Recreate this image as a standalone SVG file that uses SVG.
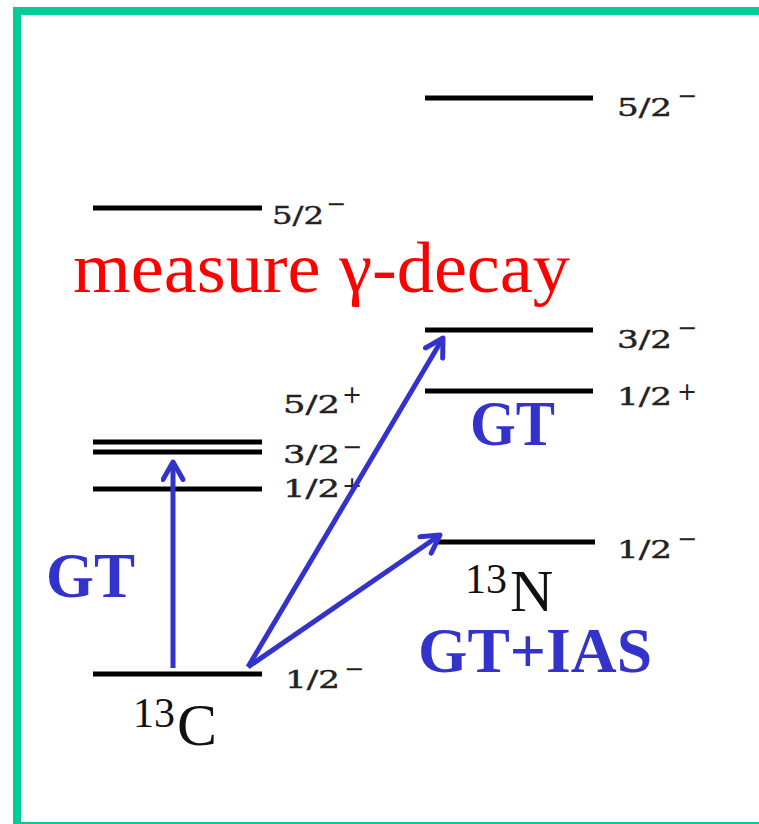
<svg xmlns="http://www.w3.org/2000/svg" width="759" height="824" viewBox="0 0 759 824">
<style>
.lvl{stroke:#000;stroke-width:5;fill:none}
.lab{font-family:"DejaVu Serif","Liberation Serif",serif;font-size:24px;fill:#222;stroke:#222;stroke-width:0.4}
.sig{font-family:"DejaVu Sans","Liberation Sans",sans-serif;font-size:24px;fill:#222}
.nuc{font-family:"Liberation Serif",serif;fill:#111}
.gt{font-family:"Liberation Serif",serif;font-weight:bold;font-size:63px;fill:#3333CC}
.arr{stroke:#3333CC;stroke-width:5;fill:none;marker-end:url(#ah)}
</style>
<defs>
<marker id="ah" viewBox="0 0 10 10" refX="8" refY="5" markerWidth="5" markerHeight="5" orient="auto" markerUnits="strokeWidth">
<path d="M1,1 L8,5 L1,9" fill="none" stroke="#3333CC" stroke-width="2" stroke-linecap="round" stroke-linejoin="round"/>
</marker>
</defs>
<rect x="0" y="0" width="759" height="824" fill="#fff"/>
<rect x="17" y="11" width="800" height="815" fill="none" stroke="#00CC99" stroke-width="8"/>

<g id="c13">
<line class="lvl" x1="93" y1="208" x2="262" y2="208"/>
<line class="lvl" x1="93" y1="442" x2="262" y2="442"/>
<line class="lvl" x1="93" y1="452" x2="262" y2="452"/>
<line class="lvl" x1="93" y1="489" x2="262" y2="489"/>
<line class="lvl" x1="93" y1="674" x2="262" y2="674"/>
<text class="nuc" x="133" y="727" font-size="42">13</text>
<text class="nuc" x="177" y="745" font-size="60">C</text>
</g>
<g id="c13-labels">
<text class="lab" x="272" y="224" textLength="52" lengthAdjust="spacingAndGlyphs">5/2</text><text class="sig" x="326" y="212">−</text>
<text class="lab" x="283" y="413" textLength="57" lengthAdjust="spacingAndGlyphs">5/2</text><text class="sig" x="342" y="403">+</text>
<text class="lab" x="283" y="463" textLength="57" lengthAdjust="spacingAndGlyphs">3/2</text><text class="sig" x="342" y="455">−</text>
<text class="lab" x="283" y="497" textLength="57" lengthAdjust="spacingAndGlyphs">1/2</text><text class="sig" x="342" y="494">+</text>
<text class="lab" x="285" y="688" textLength="55" lengthAdjust="spacingAndGlyphs">1/2</text><text class="sig" x="344" y="677">−</text>
</g>

<g id="n13">
<line class="lvl" x1="425" y1="98" x2="593" y2="98"/>
<line class="lvl" x1="425" y1="330" x2="593" y2="330"/>
<line class="lvl" x1="425" y1="391" x2="593" y2="391"/>
<line class="lvl" x1="438" y1="542" x2="595" y2="542"/>
<text class="nuc" x="465" y="593" font-size="42">13</text>
<text class="nuc" x="510" y="611" font-size="60">N</text>
</g>
<g id="n13-labels">
<text class="lab" x="617" y="116" textLength="55" lengthAdjust="spacingAndGlyphs">5/2</text><text class="sig" x="677" y="104">−</text>
<text class="lab" x="617" y="348" textLength="55" lengthAdjust="spacingAndGlyphs">3/2</text><text class="sig" x="677" y="336">−</text>
<text class="lab" x="617" y="405" textLength="55" lengthAdjust="spacingAndGlyphs">1/2</text><text class="sig" x="677" y="400">+</text>
<text class="lab" x="617" y="558" textLength="55" lengthAdjust="spacingAndGlyphs">1/2</text><text class="sig" x="677" y="547">−</text>
</g>

<g id="connectors">
<line class="arr" x1="173" y1="668" x2="173" y2="462"/>
<line class="arr" x1="248" y1="667" x2="443" y2="338"/>
<line class="arr" x1="248" y1="667" x2="440" y2="535"/>
</g>

<g id="texts">
<text x="73" y="292" font-family="Liberation Serif,serif" font-size="72" fill="#FF0000" textLength="497" lengthAdjust="spacingAndGlyphs">measure γ-decay</text>
<text class="gt" x="46" y="597" textLength="89" lengthAdjust="spacingAndGlyphs">GT</text>
<text class="gt" x="470" y="445" textLength="85" lengthAdjust="spacingAndGlyphs">GT</text>
<text class="gt" x="418" y="672" textLength="234" lengthAdjust="spacingAndGlyphs">GT+IAS</text>
</g>
</svg>
